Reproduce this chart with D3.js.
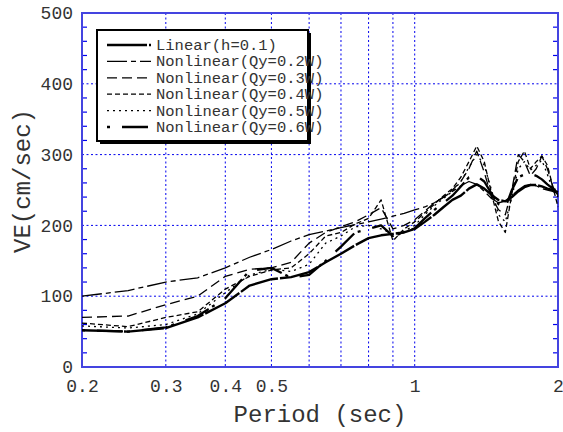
<!DOCTYPE html>
<html>
<head>
<meta charset="utf-8">
<script src="https://cdn.jsdelivr.net/npm/d3@7"></script>
<style>
  html, body { margin: 0; padding: 0; background: #fff; }
  svg { display: block; }
  text { font-family: "Liberation Mono", "Courier New", monospace; fill: #333; }
</style>
</head>
<body>
<svg id="chart" width="563" height="432"></svg>
<script>
// Periods (sec) at which the velocity response was evaluated
const periods = [0.2,0.25,0.3,0.35,0.4,0.45,0.5,0.55,0.6,0.65,0.7,0.75,0.8,0.85,0.9,0.95,1.0,
                 1.05,1.1,1.15,1.2,1.25,1.3,1.35,1.4,1.45,1.5,1.55,1.6,1.65,1.7,1.75,1.8,1.85,1.9,1.95,2.0];

// Velocity response VE (cm/sec) per model
const linearH01 = [52,50,55,70,90,115,124,127,134,148,160,172,182,186,188,190,195,
                   205,215,226,236,242,252,258,252,243,236,234,240,248,254,257,257,255,252,250,247];
const qy02 = [100,108,120,126,140,155,166,178,187,192,197,201,205,209,213,217,222,
              226,232,240,248,256,262,258,248,238,232,234,242,250,256,258,256,252,250,248,245];
const qy03 = [70,72,88,100,128,138,140,148,175,190,198,205,215,225,195,200,208,
              220,232,240,250,262,280,305,275,240,222,215,250,300,290,270,280,298,280,255,242];
const qy04 = [62,57,70,78,110,128,137,140,160,185,190,202,210,236,178,195,205,
              218,230,242,252,268,290,312,290,245,205,190,245,290,305,280,290,298,285,255,226];
const qy05 = [58,55,60,75,105,130,138,135,145,175,185,198,200,195,188,192,200,
              215,228,238,248,262,282,300,285,250,215,205,240,280,290,278,285,292,272,250,240];
const qy06 = [52,50,56,72,97,136,140,126,130,150,170,190,195,200,185,190,196,
              210,222,232,242,255,268,270,262,245,230,225,250,268,272,273,270,265,258,252,248];

const seriesNames = ["Linear(h=0.1)","Nonlinear(Qy=0.2W)","Nonlinear(Qy=0.3W)",
                     "Nonlinear(Qy=0.4W)","Nonlinear(Qy=0.5W)","Nonlinear(Qy=0.6W)"];
const seriesValues = [linearH01, qy02, qy03, qy04, qy05, qy06];

const xTickValues = [0.2,0.3,0.4,0.5,1,2];
const xGridValues = [0.3,0.4,0.5,0.6,0.7,0.8,0.9,1];
const yTickValues = [0,100,200,300,400,500];

// line styles: [stroke width, dash pattern]
const styles = [
  {w: 2.4, dash: "40,2"},
  {w: 1.3, dash: "20,4,5,4"},
  {w: 1.3, dash: "10,5"},
  {w: 1.3, dash: "5,3"},
  {w: 1.3, dash: "2,4"},
  {w: 2.3, dash: "3,12,26,4"}
];

const svg = d3.select("#chart");
const m = {left: 82, right: 558, top: 13, bottom: 367};

const x = d3.scaleLog().domain([0.2, 2]).range([m.left, m.right]);
const y = d3.scaleLinear().domain([0, 500]).range([m.bottom, m.top]);

const blue = "#0000ee";

// grid
const grid = svg.append("g");
grid.selectAll("line.v").data(xGridValues).join("line")
  .attr("x1", d => x(d)).attr("x2", d => x(d))
  .attr("y1", m.top).attr("y2", m.bottom)
  .attr("stroke", blue).attr("stroke-width", 1).attr("stroke-dasharray", "2,2.5");
grid.selectAll("line.h").data(yTickValues.filter(v => v > 0 && v < 500)).join("line")
  .attr("x1", m.left).attr("x2", m.right)
  .attr("y1", d => y(d)).attr("y2", d => y(d))
  .attr("stroke", blue).attr("stroke-width", 1).attr("stroke-dasharray", "2,2.5");

// minor y ticks on both sides
const minor = d3.range(20, 500, 20).filter(v => v % 100 !== 0);
grid.selectAll("line.ml").data(minor).join("line")
  .attr("x1", m.left).attr("x2", m.left + 5)
  .attr("y1", d => y(d)).attr("y2", d => y(d))
  .attr("stroke", blue).attr("stroke-width", 1.2);
grid.selectAll("line.mr").data(minor).join("line")
  .attr("x1", m.right - 5).attr("x2", m.right)
  .attr("y1", d => y(d)).attr("y2", d => y(d))
  .attr("stroke", blue).attr("stroke-width", 1.2);

// frame
svg.append("rect")
  .attr("x", m.left).attr("y", m.top)
  .attr("width", m.right - m.left).attr("height", m.bottom - m.top)
  .attr("fill", "none").attr("stroke", "#4444e0").attr("stroke-width", 2);

// axes labels via d3 axes (no domain lines / tick lines)
const xAxis = d3.axisBottom(x).tickValues(xTickValues).tickFormat(d3.format("")).tickSize(0).tickPadding(12);
const gx = svg.append("g").attr("transform", `translate(0,${m.bottom})`).call(xAxis);
gx.select(".domain").remove();
gx.selectAll("text").style("font-size", "18px").style("font-family", "Liberation Mono").attr("fill", "#333");

const yAxis = d3.axisLeft(y).tickValues(yTickValues).tickSize(0).tickPadding(9);
const gy = svg.append("g").attr("transform", `translate(${m.left},0)`).call(yAxis);
gy.select(".domain").remove();
gy.selectAll("text").style("font-size", "18px").style("font-family", "Liberation Mono").attr("fill", "#333");

// axis titles
svg.append("text")
  .attr("x", (m.left + m.right) / 2).attr("y", 422)
  .attr("text-anchor", "middle").style("font-size", "24px")
  .text("Period (sec)");
svg.append("text")
  .attr("transform", "translate(30,181) rotate(-90)")
  .attr("text-anchor", "middle").style("font-size", "24px")
  .text("VE(cm/sec)");

// series
const line = d3.line().x((d, i) => x(periods[i])).y(d => y(d));
const plot = svg.append("g");
seriesValues.forEach((vals, k) => {
  plot.append("path").datum(vals)
    .attr("d", line)
    .attr("fill", "none").attr("stroke", "#000")
    .attr("stroke-width", styles[k].w)
    .attr("stroke-dasharray", styles[k].dash)
    .attr("stroke-linejoin", "round");
});

// legend
const lg = {x: 97, y: 30, w: 211, h: 111};
const legend = svg.append("g");
legend.append("rect")
  .attr("x", lg.x + 3).attr("y", lg.y + 3).attr("width", lg.w).attr("height", lg.h)
  .attr("fill", "#000");
legend.append("rect")
  .attr("x", lg.x).attr("y", lg.y).attr("width", lg.w).attr("height", lg.h)
  .attr("fill", "#fff").attr("stroke", "#000").attr("stroke-width", 2);
seriesNames.forEach((name, k) => {
  const cy = 45 + k * 16.4;
  legend.append("line")
    .attr("x1", 107).attr("x2", 151).attr("y1", cy).attr("y2", cy)
    .attr("stroke", "#000").attr("stroke-width", styles[k].w)
    .attr("stroke-dasharray", styles[k].dash);
  legend.append("text")
    .attr("x", 156).attr("y", cy + 5)
    .style("font-size", "15.5px")
    .text(name);
});
</script>
</body>
</html>
